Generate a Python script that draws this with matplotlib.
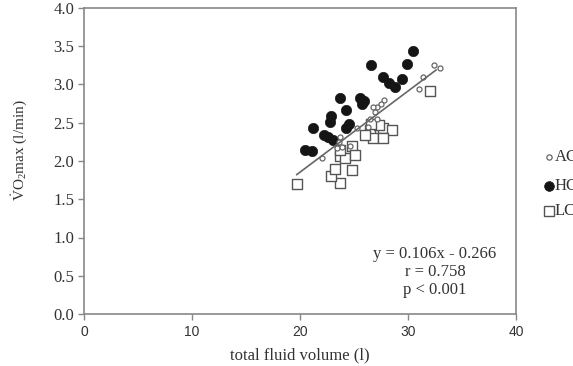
import matplotlib
matplotlib.use("Agg")
import matplotlib.pyplot as plt
from matplotlib.lines import Line2D
import numpy as np

plt.rcParams['mathtext.fontset'] = 'custom'
plt.rcParams['mathtext.rm'] = 'Liberation Serif'
plt.rcParams['mathtext.it'] = 'Liberation Serif:italic'

# AC group (small open circles)
ac_x = [32.4, 33.0, 31.4, 31.0, 27.8, 27.5, 27.1, 26.8, 26.9, 26.5, 27.1, 26.3, 25.3, 23.7, 23.4, 23.9, 23.6, 22.0, 24.6]
ac_y = [3.25, 3.22, 3.10, 2.94, 2.80, 2.75, 2.70, 2.70, 2.64, 2.55, 2.55, 2.45, 2.43, 2.31, 2.17, 2.18, 2.25, 2.04, 2.20]
# HC group (filled circles)
hc_x = [30.5, 26.6, 29.9, 27.7, 28.2, 28.8, 29.4, 23.7, 25.6, 25.9, 25.7, 24.3, 22.9, 22.8, 24.5, 24.3, 21.2, 22.2, 22.6, 23.1, 20.5, 21.1]
hc_y = [3.44, 3.25, 3.27, 3.10, 3.02, 2.97, 3.07, 2.82, 2.82, 2.78, 2.74, 2.67, 2.59, 2.51, 2.49, 2.43, 2.43, 2.34, 2.31, 2.28, 2.14, 2.13]
# LC group (open squares)
lc_x = [19.7, 32.0, 23.7, 22.9, 24.8, 23.2, 23.7, 24.2, 24.8, 25.1, 23.7, 26.5, 27.7, 28.5, 26.8, 27.7, 26.0, 27.3, 26.6]
lc_y = [1.70, 2.91, 1.71, 1.80, 1.88, 1.90, 2.06, 2.04, 2.19, 2.08, 2.14, 2.41, 2.43, 2.41, 2.30, 2.30, 2.34, 2.47, 2.48]

slope, intercept = 0.106, -0.266
stats_text = "y = 0.106x - 0.266\nr = 0.758\np < 0.001"
x_ticks = [0, 10, 20, 30, 40]
y_ticks = [0.0, 0.5, 1.0, 1.5, 2.0, 2.5, 3.0, 3.5, 4.0]
legend_labels = ['AC', 'HC', 'LC']

W, H = 573, 366
fig = plt.figure(figsize=(W / 100, H / 100), dpi=100)
ax = fig.add_axes([84 / W, 1 - 314 / H, (516 - 84) / W, (314 - 8) / H])

spine_c = '#888888'
txt_c = '#333333'
ax.scatter(hc_x, hc_y, s=55, c='#151515', edgecolors='#151515', linewidths=0.5, zorder=3)
ax.scatter(lc_x, lc_y, s=62, marker='s', facecolors='white', edgecolors='#555555', linewidths=1.0, zorder=3)
ax.scatter(ac_x, ac_y, s=13, facecolors='white', edgecolors='#666666', linewidths=0.9, zorder=4)

all_x = np.array(ac_x + hc_x + lc_x)
xl = np.array([all_x.min(), 32.6])
ax.plot(xl, slope * xl + intercept, color='#666666', lw=1.2, zorder=5)

ax.set_xlim(0, 40)
ax.set_ylim(0, 4)
ax.set_xticks(x_ticks)
ax.set_yticks(y_ticks)
ax.set_yticklabels([f"{v:.1f}" for v in y_ticks])
for s in ax.spines.values():
    s.set_color(spine_c)
    s.set_linewidth(1.2)
ax.tick_params(direction='out', length=4, width=1.0, color=spine_c, labelcolor=txt_c)
ax.tick_params(axis='x', labelsize=10, pad=4)
ax.tick_params(axis='y', labelsize=12, pad=3)
for lab in ax.get_xticklabels():
    lab.set_family('Liberation Sans')
for lab in ax.get_yticklabels():
    lab.set_family('Liberation Serif')

fig.text(300 / W, 1 - 355 / H, "total fluid volume (l)", ha='center', va='center',
         family='Liberation Serif', fontsize=12, color=txt_c)
fig.text(19 / W, 1 - 150 / H, r"$\dot{\mathrm{V}}\mathrm{O}_2$max (l/min)", ha='center', va='center',
         rotation=90, family='Liberation Serif', fontsize=11, color=txt_c)

fig.text(435 / W, 1 - 272 / H, stats_text, ha='center', va='center', family='Liberation Serif',
         fontsize=12, color=txt_c, linespacing=1.18, multialignment='center')

handles = [
    dict(marker='o', ms=3.8, mfc='white', mec='#666666', mew=0.9),
    dict(marker='o', ms=7, mfc='#151515', mec='#151515', mew=0.5),
    dict(marker='s', ms=7.5, mfc='white', mec='#555555', mew=1.0),
]
rows = [157, 186, 211]
for hd, lab, yy in zip(handles, legend_labels, rows):
    fig.add_artist(Line2D([549 / W], [1 - yy / H], transform=fig.transFigure, ls='none', **hd))
    fig.text(555 / W, 1 - yy / H, lab, ha='left', va='center', family='Liberation Serif',
             fontsize=12, color=txt_c)

fig.savefig("out.png", dpi=100)
